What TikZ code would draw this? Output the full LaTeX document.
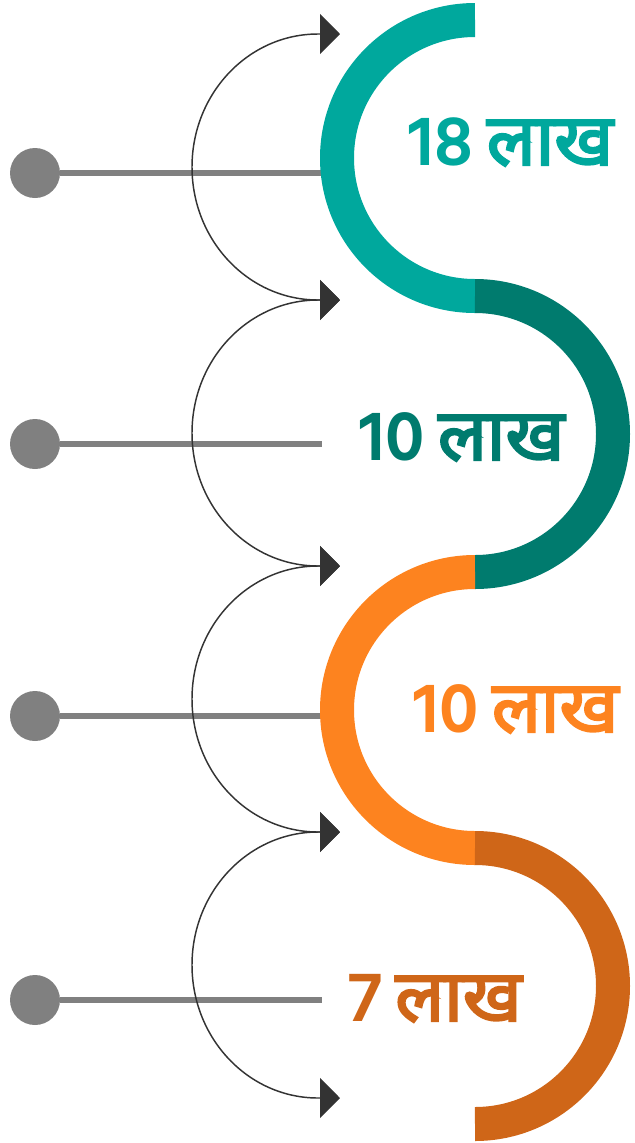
\documentclass[tikz,border=0pt]{standalone}
\usepackage{fontspec}
\newfontfamily\devfont[Script=Devanagari, FakeBold=3.2]{Noto Sans}
\newfontfamily\numfont{Hind Siliguri}
\usetikzlibrary{arrows.meta}

\definecolor{ccteal}{RGB}{0,168,157}
\definecolor{ccdarkteal}{RGB}{0,123,110}
\definecolor{ccorange}{RGB}{253,131,31}
\definecolor{ccrust}{RGB}{207,102,24}
\definecolor{ccgray}{RGB}{128,128,128}
\definecolor{ccdark}{RGB}{51,51,51}

\newcommand{\lakh}[1]{{\numfont\bfseries #1}\hspace{10pt}{\devfont लाख}}

\begin{document}
\begin{tikzpicture}[x=0.75pt, y=-0.75pt,
  wave/.style={line width=25.5pt},
  dot/.style={circle, fill=ccgray, inner sep=0pt, minimum size=37.5pt},
  stem/.style={line width=4.5pt, ccgray},
  hop/.style={line width=1.1pt, ccdark, {Triangle[length=15pt,width=30pt]}-{Triangle[length=15pt,width=30pt]}},
  amount/.style={font=\fontsize{54}{64}\selectfont, anchor=base, inner sep=0pt}]

  \useasboundingbox (0,0) rectangle (635,1143);

  % Dots and stems
  \draw(35,173) node[dot] (dot1) {};
  \draw(35,444) node[dot] (dot2) {};
  \draw(35,716) node[dot] (dot3) {};
  \draw(35,1000) node[dot] (dot4) {};
  \coordinate (stop1) at (322,173);
  \coordinate (stop2) at (322,444);
  \coordinate (stop3) at (322,716);
  \coordinate (stop4) at (322,1000);
  \draw[stem] (dot1) -- (stop1);
  \draw[stem] (dot2) -- (stop2);
  \draw[stem] (dot3) -- (stop3);
  \draw[stem] (dot4) -- (stop4);

  % Wave
  \draw[wave, ccteal] (475,20) arc[start angle=270, end angle=90, radius=138];
  \draw[wave, ccdarkteal] (475,296) arc[start angle=-90, end angle=90, radius=138];
  \draw[wave, ccorange] (475,572) arc[start angle=270, end angle=90, radius=138];
  \draw[wave, ccrust] (475,848) arc[start angle=-90, end angle=90, radius=138];

  % Hops
  \coordinate (tip0) at (340,34);
  \coordinate (tip1) at (340,300);
  \coordinate (tip2) at (340,566);
  \coordinate (tip3) at (340,832);
  \coordinate (tip4) at (340,1098);
  \draw[hop] (tip0) -- ++(-22,0) arc[start angle=270, end angle=90, x radius=126, y radius=133] -- (tip1);
  \draw[hop] (tip1) -- ++(-22,0) arc[start angle=270, end angle=90, x radius=126, y radius=133] -- (tip2);
  \draw[hop] (tip2) -- ++(-22,0) arc[start angle=270, end angle=90, x radius=126, y radius=133] -- (tip3);
  \draw[hop] (tip3) -- ++(-22,0) arc[start angle=270, end angle=90, x radius=126, y radius=133] -- (tip4);

  % Amounts
  \draw(511,165) node[amount, ccteal] (lakh18) {\lakh{18}};
  \draw(462,460) node[amount, ccdarkteal] (lakh10a) {\lakh{10}};
  \draw(516,732) node[amount, ccorange] (lakh10b) {\lakh{10}};
  \draw(435,1021) node[amount, ccrust] (lakh7) {\lakh{7}};

\end{tikzpicture}
\end{document}
